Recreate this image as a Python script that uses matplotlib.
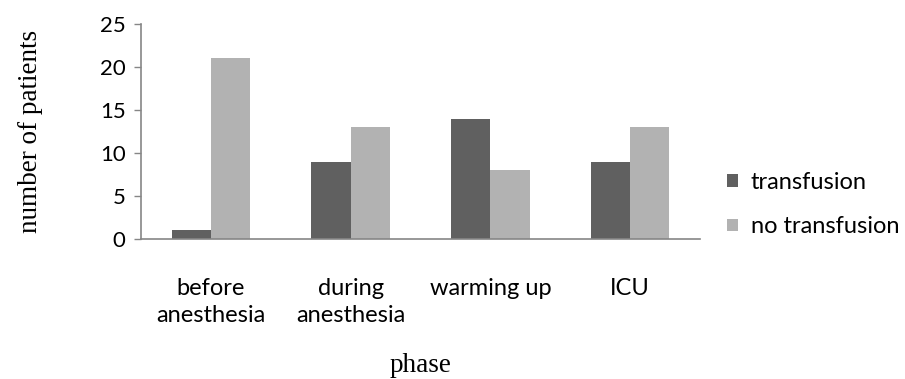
import numpy as np
import matplotlib.pyplot as plt

phases = ["before\nanesthesia", "during\nanesthesia", "warming up", "ICU"]
transfusion = [1, 9, 14, 9]
no_transfusion = [21, 13, 8, 13]
yticks = [0, 5, 10, 15, 20, 25]

fig = plt.figure(figsize=(9.05, 3.79), dpi=100)
ax = fig.add_axes([141 / 905, 1 - 239 / 379, (700 - 141) / 905, (239 - 24) / 379])

x = np.arange(len(phases))
w = 0.28
ax.bar(x - w / 2, transfusion, w, color="#606060", label="transfusion")
ax.bar(x + w / 2, no_transfusion, w, color="#b2b2b2", label="no transfusion")

ax.set_xlim(-0.5, len(phases) - 0.5)
ax.set_ylim(0, 25)
ax.set_yticks(yticks)
ax.set_xticks(x)
ax.set_xticklabels(phases, fontfamily="Lato", fontsize=17, linespacing=1.38)
for lab in ax.get_yticklabels():
    lab.set_fontfamily("Lato")
    lab.set_fontsize(16)

for s in ["top", "right"]:
    ax.spines[s].set_visible(False)
for s in ["left", "bottom"]:
    ax.spines[s].set_color("#868686")
    ax.spines[s].set_linewidth(1.2)
ax.tick_params(axis="y", colors="#868686", length=5, width=1, labelcolor="black", pad=6)
ax.tick_params(axis="x", length=0, pad=28, labelcolor="black")

ax.set_ylabel("number of patients", fontfamily="Liberation Serif", fontsize=19.5, labelpad=41)
ax.set_xlabel("phase", fontfamily="Liberation Serif", fontsize=19.5, labelpad=19)

fig.legend(loc="center left", bbox_to_anchor=(727 / 905, 1 - 204.5 / 379), frameon=False,
           prop={"family": "Lato", "size": 17}, handlelength=0.45, handleheight=0.45,
           handletextpad=0.55, labelspacing=1.0, borderpad=0, borderaxespad=0)

fig.savefig("out.png", dpi=100)
